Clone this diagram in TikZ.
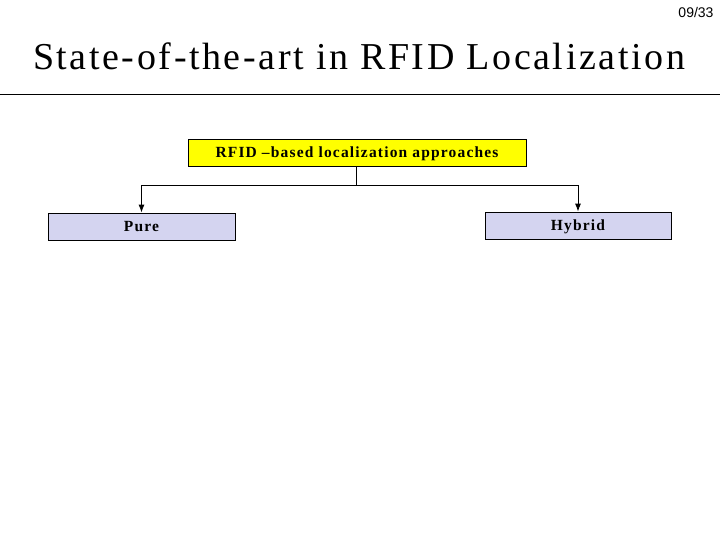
\documentclass[tikz,border=0pt]{standalone}
\usepackage{fontspec}
\setmainfont{Liberation Serif}
\newfontfamily\pagefont{Liberation Sans}
\newfontfamily\titlefont[LetterSpace=6.8]{Liberation Serif}
\newfontfamily\boxfont[LetterSpace=7.6]{Liberation Serif}
\usetikzlibrary{positioning, arrows.meta}

\definecolor{boxyellow}{RGB}{255,255,0}
\definecolor{boxlilac}{RGB}{212,212,240}

\tikzset{
    catbox/.style={draw=black, line width=0.8pt, inner sep=0pt, text height=10pt, text depth=0pt,
        font=\boxfont\fontsize{15.5}{17}\selectfont\bfseries},
    link/.style={draw=black, line width=0.9pt},
    arrowlink/.style={link, -{Latex[length=8pt,width=6pt]}}
}

\begin{document}
\begin{tikzpicture}[x=1pt, y=-1pt]
    \useasboundingbox (0,0) rectangle (720,540);

    % Page number and title
    \node[font=\pagefont\fontsize{14}{16}\selectfont] (pagenum) at (696,12.3) {09/33};
    \node[anchor=base, font=\titlefont\fontsize{38}{44}\selectfont] (title) at (359,69.3) {State-of-the-art in RFID Localization};
    \draw[line width=0.8pt] (0,94) -- (720,94);

    % The boxes
    \node[catbox, fill=boxyellow, minimum width=338pt, minimum height=27pt] (root) at (357,152.5) {RFID –based localization approaches};
    \node[catbox, fill=boxlilac, minimum width=187pt, minimum height=27pt] (pure) at (141.5,226.5) {Pure};
    \node[catbox, fill=boxlilac, minimum width=186pt, minimum height=27pt] (hybrid) at (578,225.5) {Hybrid};

    % The connectors
    \coordinate (junction) at (356,185);
    \draw[link] (root.south -| junction) -- (junction);
    \draw[arrowlink] (junction) -| (pure.north);
    \draw[arrowlink] (junction) -| (hybrid.north);
\end{tikzpicture}
\end{document}
